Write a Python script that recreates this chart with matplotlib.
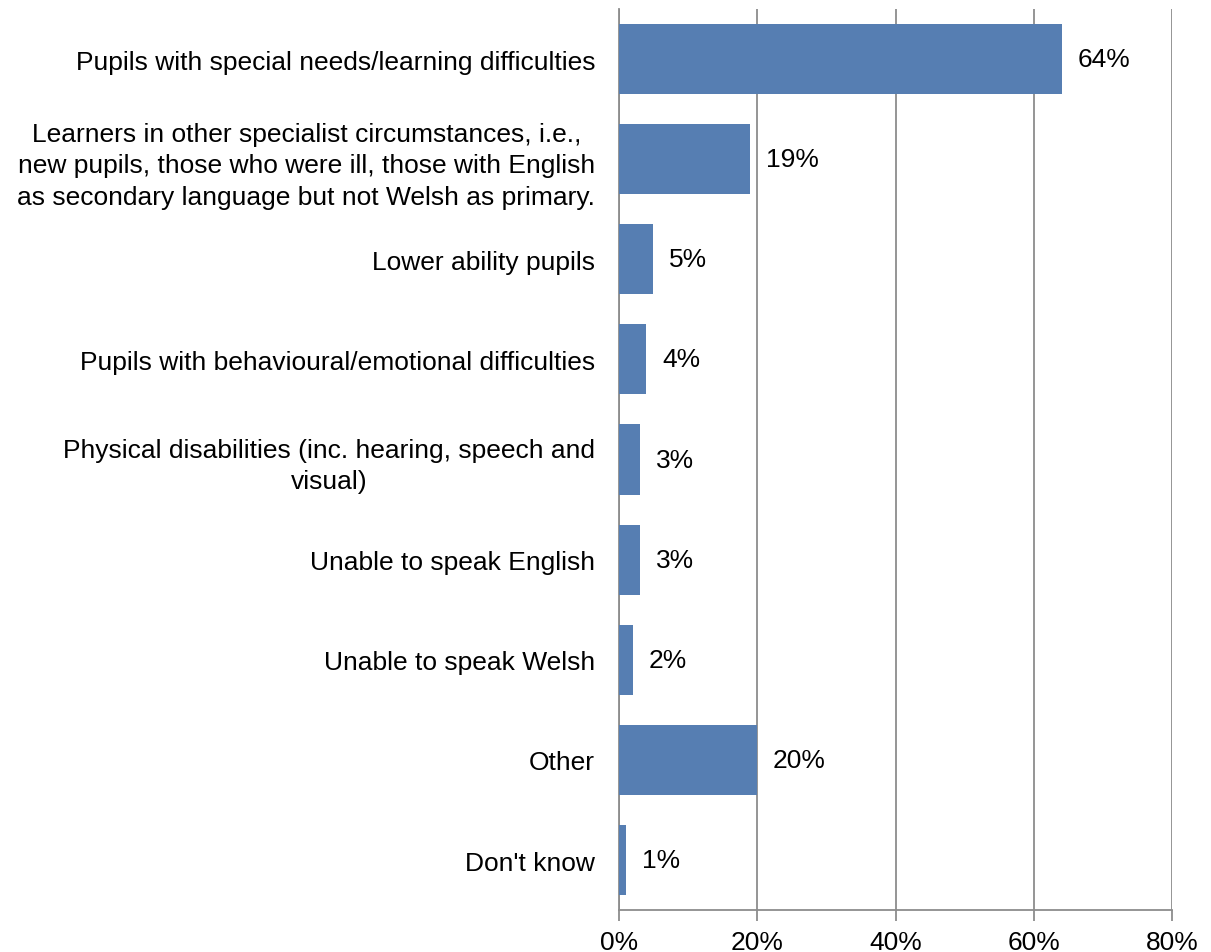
import matplotlib.pyplot as plt
import numpy as np

plt.rcParams['font.family'] = ['Liberation Sans', 'DejaVu Sans']

# Groups of pupils and share of responses (%)
groups = [
    'Pupils with special needs/learning difficulties',
    'Learners in other specialist circumstances, i.e.,\nnew pupils, those who were ill, those with English\nas secondary language but not Welsh as primary.',
    'Lower ability pupils',
    'Pupils with behavioural/emotional difficulties',
    'Physical disabilities (inc. hearing, speech and\nvisual)',
    'Unable to speak English',
    'Unable to speak Welsh',
    'Other',
    "Don't know",
]
shares = [64, 19, 5, 4, 3, 3, 2, 20, 1]
x_ticks = [0, 20, 40, 60, 80]

fig = plt.figure(figsize=(12.11, 9.53), dpi=100)
ax = fig.add_axes([0.511, 0.044, 0.457, 0.9455])

pos = np.arange(len(groups))
ax.barh(pos, shares, height=0.7, color='#567EB2', zorder=3)

for p, v in zip(pos, shares):
    ax.text(v + 2.3, p, f'{v}%', va='center', ha='left', fontsize=19)

ax.set_ylim(len(groups) - 0.5, -0.5)
ax.set_xlim(0, 80)
ax.set_xticks(x_ticks)
ax.set_xticklabels([f'{t}%' for t in x_ticks], fontsize=19)
ax.set_yticks(pos)
ax.set_yticklabels(groups, fontsize=19, multialignment='center', linespacing=1.38)

ax.grid(axis='x', color='#8c8c8c', linewidth=1.3, zorder=0)
for s in ['top', 'right']:
    ax.spines[s].set_visible(False)
for s in ['left', 'bottom']:
    ax.spines[s].set_color('#8c8c8c')
    ax.spines[s].set_linewidth(1.3)
ax.tick_params(axis='y', length=0, pad=17)
ax.tick_params(axis='x', length=8, width=1.3, color='#8c8c8c', pad=6)

fig.savefig('out.png', dpi=100, facecolor='white')
